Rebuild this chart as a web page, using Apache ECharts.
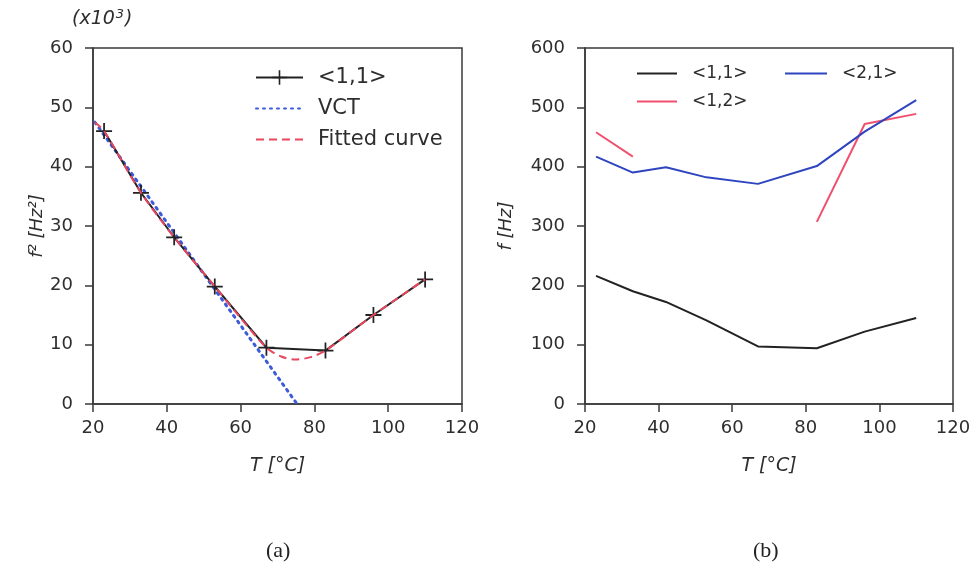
<!DOCTYPE html>
<html><head><meta charset="utf-8">
<script src="https://cdn.jsdelivr.net/npm/echarts@6/dist/echarts.min.js"></script>
<style>html,body{margin:0;padding:0;background:#fff}#c{width:974px;height:579px}</style>
</head><body><div id="c"></div>
<script>
// ---- data ----
const T = [23, 33, 42, 53, 67, 83, 96, 110];
const f2_11 = [46.0, 35.6, 28.1, 19.8, 9.5, 9.0, 15.0, 21.0];          // x10^3 Hz^2
const fitT = [20.5, 23, 33, 42, 53, 60, 67, 71, 75, 79, 83, 96, 110];
const fitF2 = [47.5, 46.0, 35.6, 28.1, 19.8, 14.5, 9.5, 8.0, 7.5, 7.9, 9.0, 15.0, 21.0];
const vctT = [20.5, 75.3];
const vctF2 = [47.5, 0];
const f_11 = [216, 190, 172, 141, 97, 94, 122, 145];
const f_12 = [458, 417, null, null, null, 307, 472, 489];
const f_21 = [417, 390, 399, 382, 371, 401, 459, 512];

const pairs = (xs, ys) => xs.map((x, i) => [x, ys[i]]);
const plus = 'path://M-0.11,-1H0.11V-0.11H1V0.11H0.11V1H-0.11V0.11H-1V-0.11H-0.11Z';
const tickFont = {fontFamily: 'DejaVu Sans', fontSize: 18, color: '#2e2e2e'};
const axisLineStyle = {color: '#3a3a3a', width: 1.5};

function xAx(gi) {
  return {type: 'value', gridIndex: gi, min: 20, max: 120, interval: 20,
    axisLine: {show: true, lineStyle: axisLineStyle},
    axisTick: {show: true, length: 8, lineStyle: axisLineStyle},
    axisLabel: Object.assign({margin: 15}, tickFont),
    splitLine: {show: false},
    name: 'T [°C]', nameLocation: 'middle', nameGap: 53,
    nameTextStyle: {fontFamily: 'DejaVu Sans', fontSize: 19, fontStyle: 'italic', color: '#2e2e2e'}};
}
function yAx(gi, max, interval, name, gap) {
  return {type: 'value', gridIndex: gi, min: 0, max: max, interval: interval,
    axisLine: {show: true, lineStyle: axisLineStyle},
    axisTick: {show: true, length: 8, lineStyle: axisLineStyle},
    axisLabel: Object.assign({margin: 20}, tickFont),
    splitLine: {show: false},
    name: name, nameLocation: 'middle', nameGap: gap, nameRotate: 90,
    nameTextStyle: {fontFamily: 'DejaVu Sans', fontSize: 18, fontStyle: 'italic', color: '#2e2e2e'}};
}
const noSym = {opacity: 0};

const chart = echarts.init(document.getElementById('c'), null, {renderer: 'canvas'});
chart.setOption({
  animation: false,
  backgroundColor: '#fff',
  grid: [
    {left: 93, right: 512, top: 48, bottom: 175, show: true, borderColor: '#3a3a3a', borderWidth: 1.5},
    {left: 585, right: 21, top: 48, bottom: 175, show: true, borderColor: '#3a3a3a', borderWidth: 1.5}
  ],
  xAxis: [xAx(0), xAx(1)],
  yAxis: [yAx(0, 60, 10, 'f² [Hz²]', 43), yAx(1, 600, 100, 'f [Hz]', 70)],
  legend: [
    {data: ['<1,1>', {name: 'VCT', itemStyle: noSym}, {name: 'Fitted curve', itemStyle: noSym}],
     orient: 'vertical', left: 250, top: 62,
     itemWidth: 47, itemHeight: 18, itemGap: 10,
     textStyle: {fontFamily: 'DejaVu Sans', fontSize: 21, color: '#2e2e2e', padding: [0, 0, 0, 10]}},
    {data: [{name: '<1,1> ', itemStyle: noSym}, {name: '<1,2>', itemStyle: noSym}],
     orient: 'vertical', left: 631, top: 60,
     itemWidth: 40, itemHeight: 16, itemGap: 11, formatter: n => n.trim(),
     textStyle: {fontFamily: 'DejaVu Sans', fontSize: 17, color: '#2e2e2e', padding: [0, 0, 0, 10]}},
    {data: [{name: '<2,1>', itemStyle: noSym}], orient: 'vertical', left: 779, top: 60,
     itemWidth: 42, itemHeight: 16,
     textStyle: {fontFamily: 'DejaVu Sans', fontSize: 17, color: '#2e2e2e', padding: [0, 0, 0, 10]}}
  ],
  graphic: [
    {type: 'text', left: 72, top: 8, style: {
      text: '{a|(x10}{s|3}{a|)}',
      rich: {a: {font: 'italic 19px DejaVu Sans', fill: '#2e2e2e', verticalAlign: 'bottom'},
             s: {font: 'italic 13px DejaVu Sans', fill: '#2e2e2e', verticalAlign: 'top', padding: [0, 1, 8, 1]}}}},
    {type: 'text', left: 266, top: 540, style: {text: '(a)', font: '22px Liberation Serif', fill: '#222'}},
    {type: 'text', left: 753, top: 540, style: {text: '(b)', font: '22px Liberation Serif', fill: '#222'}}
  ],
  series: [
    {name: 'VCT', type: 'line', xAxisIndex: 0, yAxisIndex: 0, data: pairs(vctT, vctF2),
     symbol: 'none', lineStyle: {color: '#3b5bdb', width: 3, type: [2, 5], cap: 'round'}, itemStyle: {color: '#3b5bdb'}, z: 2},
    {name: '<1,1>', type: 'line', xAxisIndex: 0, yAxisIndex: 0, data: pairs(T, f2_11),
     symbol: plus, symbolSize: 16, showSymbol: true,
     lineStyle: {color: '#222', width: 2}, itemStyle: {color: '#222'}, z: 3},
    {name: 'Fitted curve', type: 'line', xAxisIndex: 0, yAxisIndex: 0, data: pairs(fitT, fitF2),
     symbol: 'none', smooth: 0.3, lineStyle: {color: '#e8475f', width: 2, type: [8, 5]}, itemStyle: {color: '#e8475f'}, z: 4},
    {name: '<1,1> ', type: 'line', xAxisIndex: 1, yAxisIndex: 1, data: pairs(T, f_11),
     symbol: 'none', lineStyle: {color: '#222', width: 2}, itemStyle: {color: '#222'}},
    {name: '<1,2>', type: 'line', xAxisIndex: 1, yAxisIndex: 1, data: pairs(T, f_12),
     symbol: 'none', connectNulls: false, lineStyle: {color: '#f0506e', width: 2}, itemStyle: {color: '#f0506e'}},
    {name: '<2,1>', type: 'line', xAxisIndex: 1, yAxisIndex: 1, data: pairs(T, f_21),
     symbol: 'none', lineStyle: {color: '#2f45c0', width: 2}, itemStyle: {color: '#2f45c0'}}
  ]
});
</script></body></html>
